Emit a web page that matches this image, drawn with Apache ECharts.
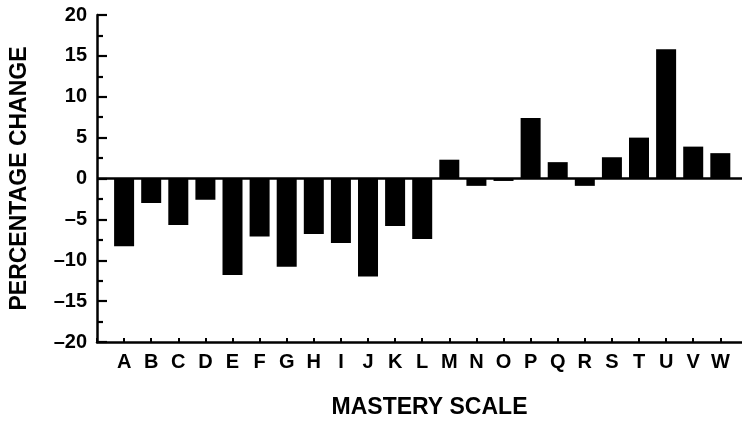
<!DOCTYPE html>
<html>
<head>
<meta charset="utf-8">
<style>
  html, body { margin: 0; padding: 0; background: #ffffff; overflow: hidden; }
  #chart { width: 100vw; height: 100vh; }
</style>
<script src="https://cdn.jsdelivr.net/npm/echarts@6/dist/echarts.min.js"></script>
</head>
<body>
<div id="chart"></div>
<script>
// Mastery scales, placed at positions 1..23 along the horizontal axis
const categories = ['A', 'B', 'C', 'D', 'E', 'F', 'G', 'H', 'I', 'J', 'K', 'L',
                    'M', 'N', 'O', 'P', 'Q', 'R', 'S', 'T', 'U', 'V', 'W'];
// Percentage change for each scale
const percentChange = [-8.3, -3.0, -5.7, -2.6, -11.8, -7.1, -10.8, -6.8, -7.9, -12.0, -5.8, -7.4,
                       2.3, -0.9, -0.3, 7.4, 2.0, -0.9, 2.6, 5.0, 15.8, 3.9, 3.1];
// Vertical axis range and step
const yTicks = { min: -20, max: 20, step: 5 };

const FONT = '"Liberation Sans", Arial, Helvetica, sans-serif';

const barData = percentChange.map((v, i) => [i + 1, v]);

const chart = echarts.init(document.getElementById('chart'), null, { renderer: 'canvas' });

chart.setOption({
  animation: false,
  backgroundColor: '#ffffff',
  grid: { left: 95, right: 0, top: 15, bottom: 75, containLabel: false },
  xAxis: {
    type: 'value',
    min: 0,
    max: 23.8,
    interval: 1,
    splitLine: { show: false },
    axisLine: { show: true, onZero: false, lineStyle: { color: '#000', width: 2.5 } },
    axisTick: { show: true, inside: true, length: 4, lineStyle: { color: '#000', width: 2 } },
    axisLabel: {
      margin: 10,
      color: '#000',
      fontFamily: FONT,
      fontWeight: 'bold',
      fontSize: 20,
      showMaxLabel: false,
      formatter: function (v) {
        const idx = Math.round(v) - 1;
        return (idx >= 0 && idx < categories.length && Math.abs(v - Math.round(v)) < 1e-6) ? categories[idx] : '';
      }
    },
    name: 'MASTERY SCALE',
    nameLocation: 'middle',
    nameGap: 54,
    nameTextStyle: {
      color: '#000',
      fontFamily: FONT,
      fontWeight: 'bold',
      fontSize: 23,
      padding: [0, 0, 0, 20]
    }
  },
  yAxis: {
    type: 'value',
    min: yTicks.min,
    max: yTicks.max,
    interval: yTicks.step,
    splitLine: { show: false },
    axisLine: { show: true, onZero: false, lineStyle: { color: '#000', width: 2.5 } },
    axisTick: { show: true, inside: true, length: 10, lineStyle: { color: '#000', width: 2.2 } },
    minorTick: { show: true, splitNumber: 2, length: 6, lineStyle: { color: '#000', width: 2.2 } },
    axisLabel: {
      margin: 10,
      color: '#000',
      fontFamily: FONT,
      fontWeight: 'bold',
      fontSize: 20,
      formatter: function (v) { return String(v).replace('-', '\u2013'); }
    },
    name: 'PERCENTAGE CHANGE',
    nameLocation: 'middle',
    nameRotate: 90,
    nameGap: 66,
    nameTextStyle: {
      color: '#000',
      fontFamily: FONT,
      fontWeight: 'bold',
      fontSize: 23
    }
  },
  series: [{
    type: 'bar',
    data: barData,
    barWidth: 20,
    itemStyle: { color: '#000' },
    markLine: {
      silent: true,
      symbol: ['none', 'none'],
      label: { show: false },
      lineStyle: { color: '#000', width: 2.5, type: 'solid' },
      data: [{ yAxis: 0 }]
    }
  }]
});
</script>
</body>
</html>
